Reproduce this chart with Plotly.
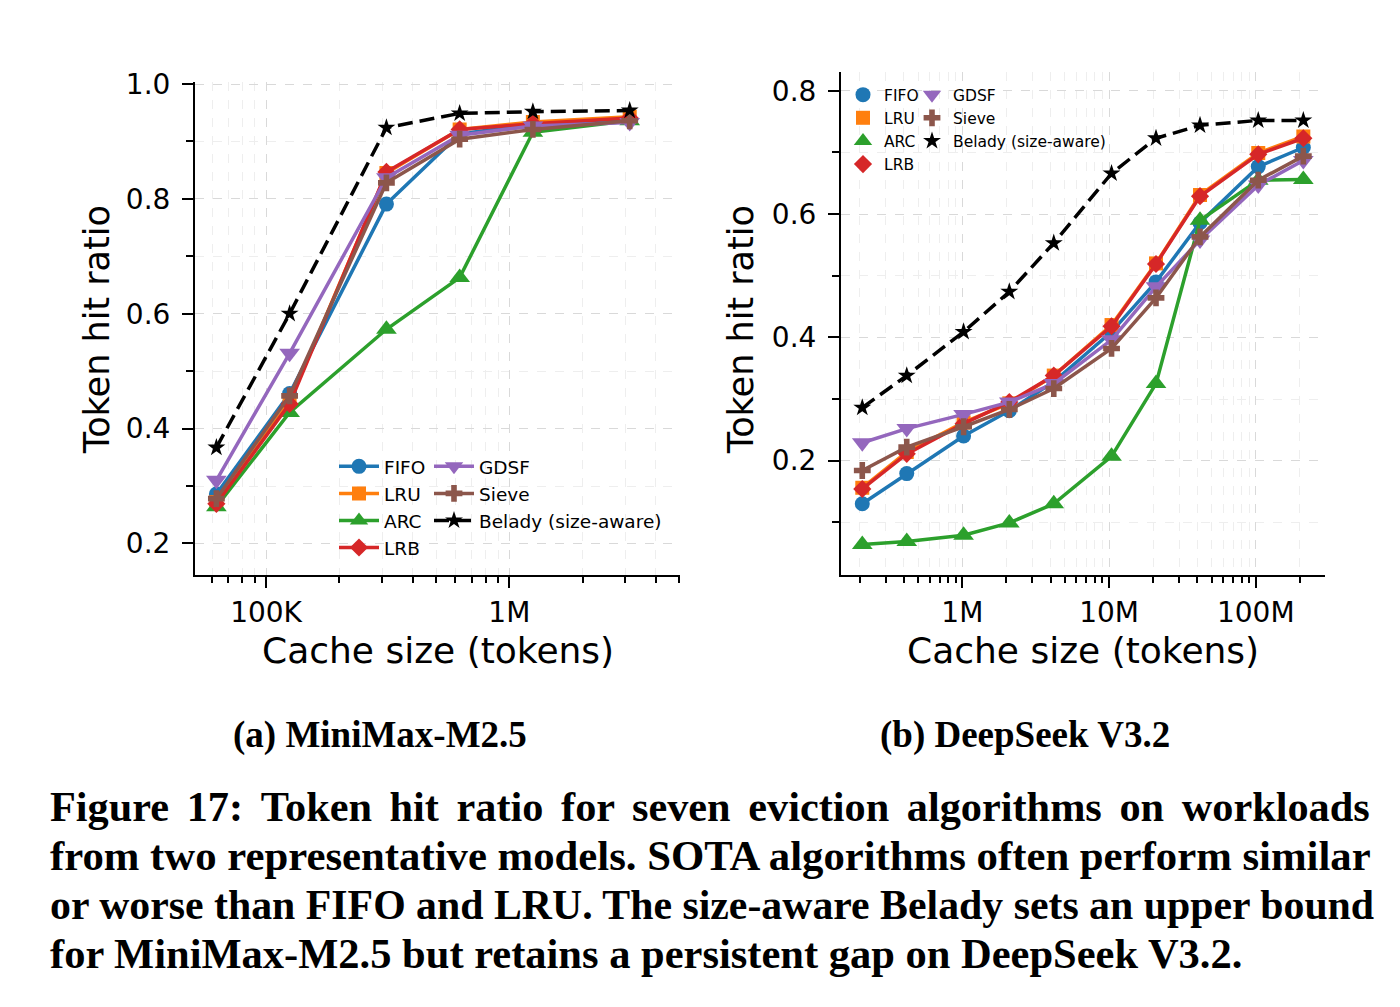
import plotly.graph_objects as go

# cache sizes (tokens)
mm_sizes = [62.5e3, 125e3, 312.5e3, 625e3, 1.25e6, 3.125e6]
ds_sizes = [0.208e6, 0.418e6, 1.02e6, 2.09e6, 4.2e6, 10.4e6, 20.9e6, 41.7e6, 104e6, 211e6]

# (a) MiniMax-M2.5 token hit ratio
mm_fifo = [0.286, 0.461, 0.791, 0.913, 0.930, 0.939]
mm_lru = [0.272, 0.447, 0.845, 0.921, 0.934, 0.943]
mm_arc = [0.264, 0.428, 0.573, 0.663, 0.916, 0.936]
mm_lrb = [0.269, 0.443, 0.847, 0.921, 0.931, 0.941]
mm_gdsf = [0.310, 0.531, 0.837, 0.911, 0.927, 0.933]
mm_sieve = [0.278, 0.457, 0.828, 0.904, 0.921, 0.936]
mm_belady = [0.367, 0.600, 0.924, 0.949, 0.952, 0.954]

# (b) DeepSeek V3.2 token hit ratio
ds_fifo = [0.130, 0.179, 0.240, 0.281, 0.328, 0.409, 0.490, 0.586, 0.677, 0.708]
ds_lru = [0.156, 0.214, 0.262, 0.293, 0.338, 0.420, 0.520, 0.631, 0.699, 0.726]
ds_arc = [0.064, 0.069, 0.079, 0.099, 0.130, 0.207, 0.325, 0.590, 0.655, 0.656]
ds_lrb = [0.154, 0.211, 0.260, 0.295, 0.338, 0.418, 0.519, 0.629, 0.697, 0.723]
ds_gdsf = [0.229, 0.252, 0.275, 0.295, 0.325, 0.396, 0.482, 0.558, 0.647, 0.687]
ds_sieve = [0.184, 0.222, 0.255, 0.283, 0.317, 0.382, 0.464, 0.563, 0.655, 0.694]
ds_belady = [0.286, 0.338, 0.409, 0.474, 0.553, 0.666, 0.723, 0.744, 0.752, 0.752]

algos = ["FIFO", "LRU", "ARC", "LRB", "GDSF", "Sieve", "Belady (size-aware)"]
colors = ["#1f77b4", "#ff7f0e", "#2ca02c", "#d62728", "#9467bd", "#8c564b", "#000000"]
symbols = ["circle", "square", "triangle-up", "diamond", "triangle-down", "cross", "star"]
msizes = [15, 14, 18, 14, 18, 14, 13.5]

THIN = "\u2006"  # six-per-em space, stretches the first (justified) line
caption_lines = [
    "Figure 17: Token hit ratio for seven eviction algorithms on workloads".replace(" ", " " + THIN),
    "from two representative models. SOTA algorithms often perform similar",
    "or worse than FIFO and LRU. The size-aware Belady sets an upper bound",
    "for MiniMax-M2.5 but retains a persistent gap on DeepSeek V3.2.",
]
caption_sizes = [42.3, 42.75, 41.8, 42.5]

W, H = 1384, 980
SANS = "DejaVu Sans"
SERIF = "Liberation Serif"


def fx(sx):
    # screen px -> paper fraction (page has 8px body margin)
    return (sx - 8) / W


def fy(sy):
    # the photo comes out slightly squashed / shifted vertically; undo that
    y = (sy - 14.1) / 0.985
    return 1 - (y - 8) / H


fig = go.Figure()

# left panel: traces carry their own legend entries (line + marker handles)
for i, (name, ys) in enumerate(zip(algos, [mm_fifo, mm_lru, mm_arc, mm_lrb, mm_gdsf, mm_sieve, mm_belady])):
    belady = name.startswith("Belady")
    fig.add_trace(go.Scatter(
        x=mm_sizes, y=ys, name=name, mode="lines+markers", xaxis="x", yaxis="y",
        legend="legend" if i < 4 else "legend2",
        line=dict(color=colors[i], width=3.5, dash="15px,7px" if belady else "solid"),
        marker=dict(symbol=symbols[i], size=msizes[i], color=colors[i], line=dict(width=0)),
    ))

# right panel: curves without legend; the legend there uses short marker-only handles
for i, (name, ys) in enumerate(zip(algos, [ds_fifo, ds_lru, ds_arc, ds_lrb, ds_gdsf, ds_sieve, ds_belady])):
    belady = name.startswith("Belady")
    fig.add_trace(go.Scatter(
        x=ds_sizes, y=ys, name=name, mode="lines+markers", xaxis="x2", yaxis="y2", showlegend=False,
        line=dict(color=colors[i], width=3.5, dash="15px,7px" if belady else "solid"),
        marker=dict(symbol=symbols[i], size=msizes[i], color=colors[i], line=dict(width=0)),
    ))
for i, name in enumerate(algos):
    fig.add_trace(go.Scatter(
        x=[None], y=[None], name=name, mode="markers", xaxis="x2", yaxis="y2",
        legend="legend3" if i < 4 else "legend4",
        marker=dict(symbol=symbols[i], size=msizes[i], color=colors[i], line=dict(width=0)),
    ))

grid_major = "#d9d9d9"
grid_minor = "#eeeeee"


def xaxis(domain, rng, vals, text, minor_vals, anchor):
    return dict(
        type="log", domain=domain, range=rng, anchor=anchor,
        tickvals=vals, ticktext=text, ticks="outside", ticklen=11, tickwidth=2,
        tickcolor="black", showline=True, linecolor="black", linewidth=2,
        showgrid=True, gridcolor=grid_major, griddash="dash", gridwidth=1,
        tickfont=dict(family=SANS, size=28, color="black"), zeroline=False,
        minor=dict(tickvals=minor_vals, ticks="outside", ticklen=6, tickwidth=1.5,
                   tickcolor="black", showgrid=True, gridcolor=grid_minor, griddash="dash"),
    )


def yaxis(domain, rng, vals, anchor):
    return dict(
        domain=domain, range=rng, tickvals=vals, tickformat=".1f", anchor=anchor,
        ticks="outside", ticklen=11, tickwidth=2, tickcolor="black",
        showline=True, linecolor="black", linewidth=2, ticklabelstandoff=6,
        showgrid=True, gridcolor=grid_major, griddash="dash", gridwidth=1,
        tickfont=dict(family=SANS, size=28, color="black"), zeroline=False,
        minor=dict(dtick=0.1, tick0=0.1, ticks="outside", ticklen=7, tickwidth=1.5,
                   tickcolor="black", showgrid=True, gridcolor=grid_minor, griddash="dash"),
    )


mm_minor = [m * 10 ** e for e in (4, 5, 6) for m in range(2, 10) if 5.5e4 < m * 10 ** e < 5.1e6]
ds_minor = [m * 10 ** e for e in (5, 6, 7, 8) for m in range(2, 10) if 1.4e5 < m * 10 ** e < 3e8]

fig.update_layout(
    width=W, height=H,
    margin=dict(l=0, r=0, t=0, b=0),
    paper_bgcolor="white", plot_bgcolor="white",
    font=dict(family=SANS, color="black"),
    xaxis=xaxis([fx(195), fx(680)], [4.708, 6.7016], [1e5, 1e6], ["100K", "1M"], mm_minor, "y"),
    yaxis=yaxis([fy(575), fy(82)], [0.1443, 1.0035], [0.2, 0.4, 0.6, 0.8, 1.0], "x"),
    xaxis2=xaxis([fx(841), fx(1325)], [5.173, 8.472], [1e6, 1e7, 1e8], ["1M", "10M", "100M"], ds_minor, "y2"),
    yaxis2=yaxis([fy(575), fy(72)], [0.0138, 0.8304], [0.2, 0.4, 0.6, 0.8], "x2"),
    showlegend=True,
)

leg_common = dict(xanchor="left", yanchor="top", bgcolor="rgba(0,0,0,0)", borderwidth=0,
                  tracegroupgap=0)
fig.update_layout(
    legend=dict(x=fx(334), y=fy(447.5), font=dict(family=SANS, size=18.5), itemwidth=40, **leg_common),
    legend2=dict(x=fx(429), y=fy(447.5), font=dict(family=SANS, size=18.5), itemwidth=40, **leg_common),
    legend3=dict(x=fx(842), y=fy(78), font=dict(family=SANS, size=15.5), itemwidth=32, **leg_common),
    legend4=dict(x=fx(911), y=fy(78), font=dict(family=SANS, size=15.5), itemwidth=32, **leg_common),
)

ann = []
# axis titles
for cx in (437.5, 1083):
    ann.append(dict(text="Cache size (tokens)", x=fx(cx), y=fy(650), xref="paper", yref="paper",
                    xanchor="center", yanchor="middle", showarrow=False,
                    font=dict(family=SANS, size=36, color="black")))
for cx, cy in ((97, 330), (741, 330)):
    ann.append(dict(text="Token hit ratio", x=fx(cx), y=fy(cy), xref="paper", yref="paper",
                    xanchor="center", yanchor="middle", showarrow=False, textangle=-90,
                    font=dict(family=SANS, size=35, color="black")))
# subcaptions
for cx, t in ((380, "(a) MiniMax-M2.5"), (1025, "(b) DeepSeek V3.2")):
    ann.append(dict(text=t, x=fx(cx), y=fy(734), xref="paper", yref="paper",
                    xanchor="center", yanchor="middle", showarrow=False,
                    font=dict(family=SERIF, size=37, color="black", weight="bold")))
# figure caption
for k, line in enumerate(caption_lines):
    ann.append(dict(text=line, x=fx(48), y=fy(806 + 49 * k), xref="paper", yref="paper",
                    xanchor="left", yanchor="middle", showarrow=False,
                    font=dict(family=SERIF, size=caption_sizes[k], color="black", weight="bold")))
fig.update_layout(annotations=ann)

fig.write_html("out.html")
